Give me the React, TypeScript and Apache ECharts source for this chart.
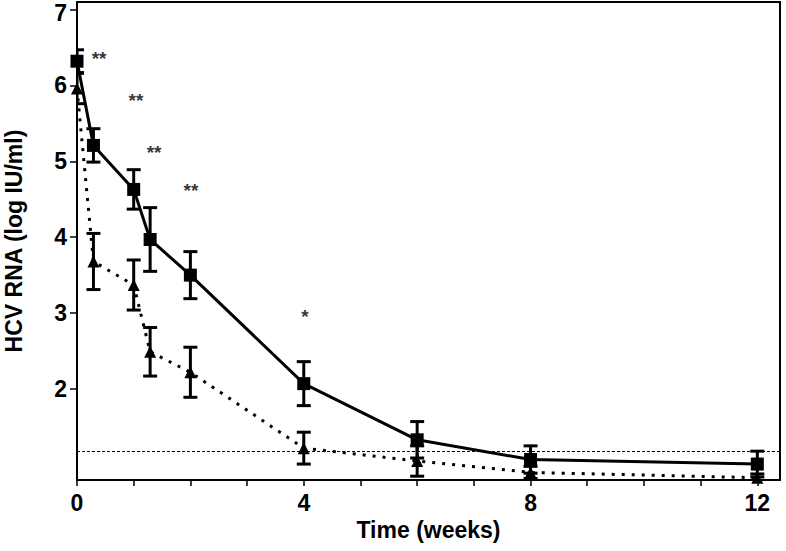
import React, { useEffect, useRef } from "react";
import * as echarts from "echarts";

const weeks = [0, 0.29, 1, 1.29, 2, 4, 6, 8, 12];
const squareMean = [6.32, 5.21, 4.63, 3.97, 3.5, 2.07, 1.33, 1.07, 1.01];
const squareErr = [0.15, 0.22, 0.26, 0.42, 0.31, 0.29, 0.24, 0.18, 0.17];
const triangleMean = [5.96, 3.68, 3.37, 2.49, 2.22, 1.22, 1.05, 0.9, 0.83];
const triangleErr = [0.2, 0.37, 0.33, 0.32, 0.33, 0.21, 0.2, 0.08, 0.05];
const detectionLimit = 1.18;
const starX = [0.39, 1.04, 1.36, 2.01, 4.02];
const starY = [6.35, 5.8, 5.11, 4.61, 2.95];
const starText = ["**", "**", "**", "**", "*"];
const yTicks = [2, 3, 4, 5, 6, 7];
const xLabels = [0, 4, 8, 12];
const xTicks = [0, 1, 2, 3, 4, 5, 6, 7, 8, 9, 10, 11, 12];

const FONT = 'Arial, "Liberation Sans", Helvetica, sans-serif';

function errorBarItem(params: any, api: any) {
  const x = api.value(0);
  const y = api.value(1);
  const e = api.value(2);
  const top = api.coord([x, y + e]);
  const bot = api.coord([x, y - e]);
  const hw = 7;
  const style = { stroke: "#000", lineWidth: 3 };
  return {
    type: "group",
    children: [
      { type: "line", shape: { x1: top[0], y1: top[1], x2: bot[0], y2: bot[1] }, style },
      { type: "line", shape: { x1: top[0] - hw, y1: top[1], x2: top[0] + hw, y2: top[1] }, style },
      { type: "line", shape: { x1: bot[0] - hw, y1: bot[1], x2: bot[0] + hw, y2: bot[1] }, style },
    ],
  };
}

export default function App() {
  const ref = useRef<HTMLDivElement>(null);
  useEffect(() => {
    if (!ref.current) return;
    const chart = echarts.init(ref.current, undefined, { renderer: "svg" });
    const sqData = weeks.map((w, i) => [w, squareMean[i]]);
    const trData = weeks.map((w, i) => [w, triangleMean[i]]);
    const sqErrData = weeks.map((w, i) => [w, squareMean[i], squareErr[i]]);
    const trErrData = weeks.map((w, i) => [w, triangleMean[i], triangleErr[i]]);
    const stars = starX.map((x, i) => ({ value: [x, starY[i]], name: starText[i] }));
    const topTick = yTicks[yTicks.length - 1];
    chart.setOption({
      animation: false,
      backgroundColor: "#fff",
      textStyle: { fontFamily: FONT },
      grid: {
        left: 77,
        right: 6,
        top: 2,
        bottom: 71,
        outerBoundsMode: "none",
        containLabel: false,
        show: true,
        borderColor: "#000",
        borderWidth: 2,
        backgroundColor: "transparent",
      },
      xAxis: {
        type: "value",
        min: 0,
        max: 12.4,
        name: "Time (weeks)",
        nameLocation: "middle",
        nameGap: 36,
        nameTextStyle: { fontSize: 23, fontWeight: "bold", color: "#000", fontFamily: FONT, verticalAlign: "top" },
        axisLine: { show: true, lineStyle: { color: "#000", width: 2 } },
        axisTick: { show: true, customValues: xTicks, length: 6, lineStyle: { color: "#000", width: 1.5 } },
        axisLabel: { customValues: xLabels, fontSize: 23, fontWeight: "bold", color: "#000", margin: 11, fontFamily: FONT },
        splitLine: { show: false },
      },
      yAxis: {
        type: "value",
        min: 0.8,
        max: 7.1,
        name: "HCV RNA (log IU/ml)",
        nameLocation: "middle",
        nameGap: 52,
        nameTextStyle: { fontSize: 23, fontWeight: "bold", color: "#000", fontFamily: FONT },
        axisLine: { show: true, lineStyle: { color: "#000", width: 2 } },
        axisTick: { show: true, customValues: yTicks, length: 7, lineStyle: { color: "#000", width: 1.5 } },
        axisLabel: {
          customValues: yTicks,
          fontSize: 23,
          fontWeight: "bold",
          color: "#000",
          margin: 10,
          fontFamily: FONT,
          lineHeight: 16,
          verticalAlign: "middle",
          formatter: (v: number) => (v === topTick ? "{t|" + v + "}" : "{n|" + v + "}"),
          rich: {
            n: { fontSize: 23, fontWeight: "bold", color: "#000", fontFamily: FONT, lineHeight: 16 },
            t: {
              fontSize: 23,
              fontWeight: "bold",
              color: "#000",
              fontFamily: FONT,
              lineHeight: 16,
              padding: [7, 0, 0, 0],
            },
          },
        },
        splitLine: { show: false },
      },
      series: [
        {
          type: "custom",
          name: "sqErr",
          clip: true,
          renderItem: errorBarItem,
          data: sqErrData,
          encode: { x: 0, y: 1 },
          z: 3,
        },
        {
          type: "custom",
          name: "trErr",
          clip: true,
          renderItem: errorBarItem,
          data: trErrData,
          encode: { x: 0, y: 1 },
          z: 3,
        },
        {
          type: "line",
          name: "triangle",
          data: trData,
          symbol: "triangle",
          symbolSize: [12, 12],
          showSymbol: true,
          lineStyle: { color: "#000", width: 3, type: [3, 7] },
          itemStyle: { color: "#000" },
          z: 4,
          markLine: {
            silent: true,
            symbol: "none",
            label: { show: false },
            lineStyle: { color: "#000", width: 1, type: [3, 2] },
            data: [{ yAxis: detectionLimit }],
          },
        },
        {
          type: "line",
          name: "square",
          data: sqData,
          symbol: "rect",
          symbolSize: 13,
          showSymbol: true,
          lineStyle: { color: "#000", width: 3, type: "solid" },
          itemStyle: { color: "#000" },
          z: 5,
        },
        {
          type: "scatter",
          name: "stars",
          data: stars,
          symbolSize: 0,
          silent: true,
          itemStyle: { color: "#000" },
          label: {
            show: true,
            position: "inside",
            formatter: (p: any) => p.name,
            fontSize: 19,
            fontWeight: "bold",
            color: "#000",
            fontFamily: FONT,
          },
          z: 6,
        },
      ],
    });
    return () => chart.dispose();
  }, []);
  return (
    <div
      ref={ref}
      style={{ position: "fixed", left: 0, top: 0, width: 786, height: 551, background: "#fff" }}
    />
  );
}
